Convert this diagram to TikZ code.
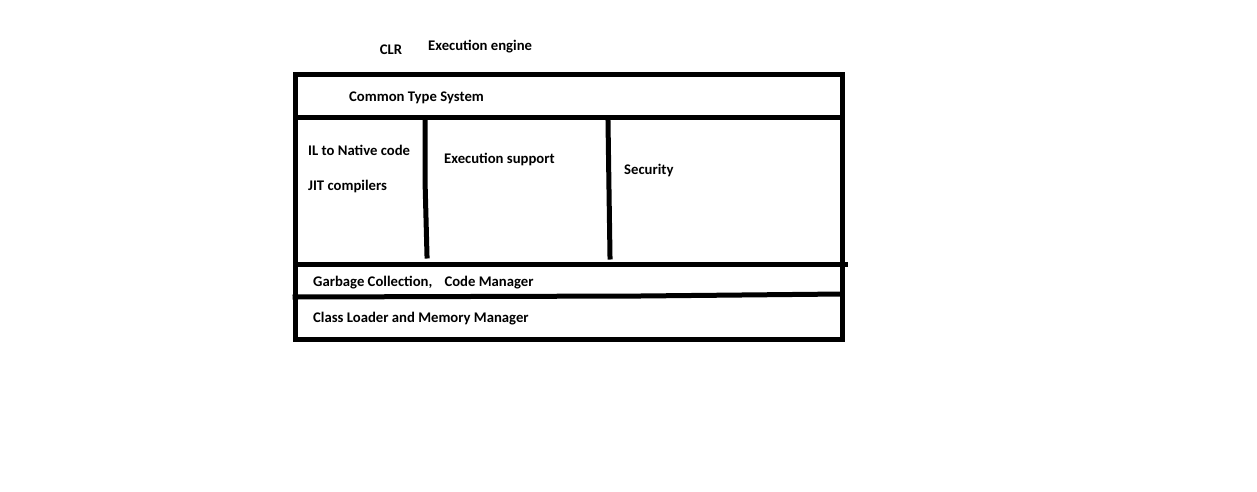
\documentclass[tikz,border=0pt]{standalone}
\usepackage{fontspec}
\setmainfont{Carlito}
\usepackage{tikz}

\begin{document}
\begin{tikzpicture}[x=1pt,y=-1pt,
        lbl/.style={anchor=west,inner sep=0pt,font=\fontsize{14.7}{16}\selectfont\bfseries},
        wall/.style={line width=5pt,line cap=rect}]
        \useasboundingbox (0,0) rectangle (1257,491);

        % outer frame and bands
        \draw[wall] (295,74) rectangle (842,339);
        \draw[wall] (295,117) -- (842,117);
        \draw[wall] (295,264) -- (845,264);
        \draw[wall] (295,297) -- (640,296) -- (842,294);
        %~ columns
        \draw[wall] (425,119) -- (425,180) -- (427,256);
        \draw[wall] (608,121) -- (609,190) -- (610,257);

        \node[lbl,anchor=center] (clr) at (391,50) {CLR};
        \node[lbl] (engine) at (428,47) {Execution engine};
        \node[lbl] (cts) at (349,98) {Common Type System};
        \node[lbl] (native) at (308,150) {IL to Native code};
        \node[lbl] (jit) at (308,186) {JIT compilers};
        \node[lbl] (support) at (444,159) {Execution support};
        \node[lbl] (security) at (624,170) {Security};
        \node[lbl] (gc) at (313,283) {Garbage Collection,\hspace{0.6em} Code Manager};
        \node[lbl] (loader) at (313,319) {Class Loader and Memory Manager};
    \end{tikzpicture}
\end{document}
